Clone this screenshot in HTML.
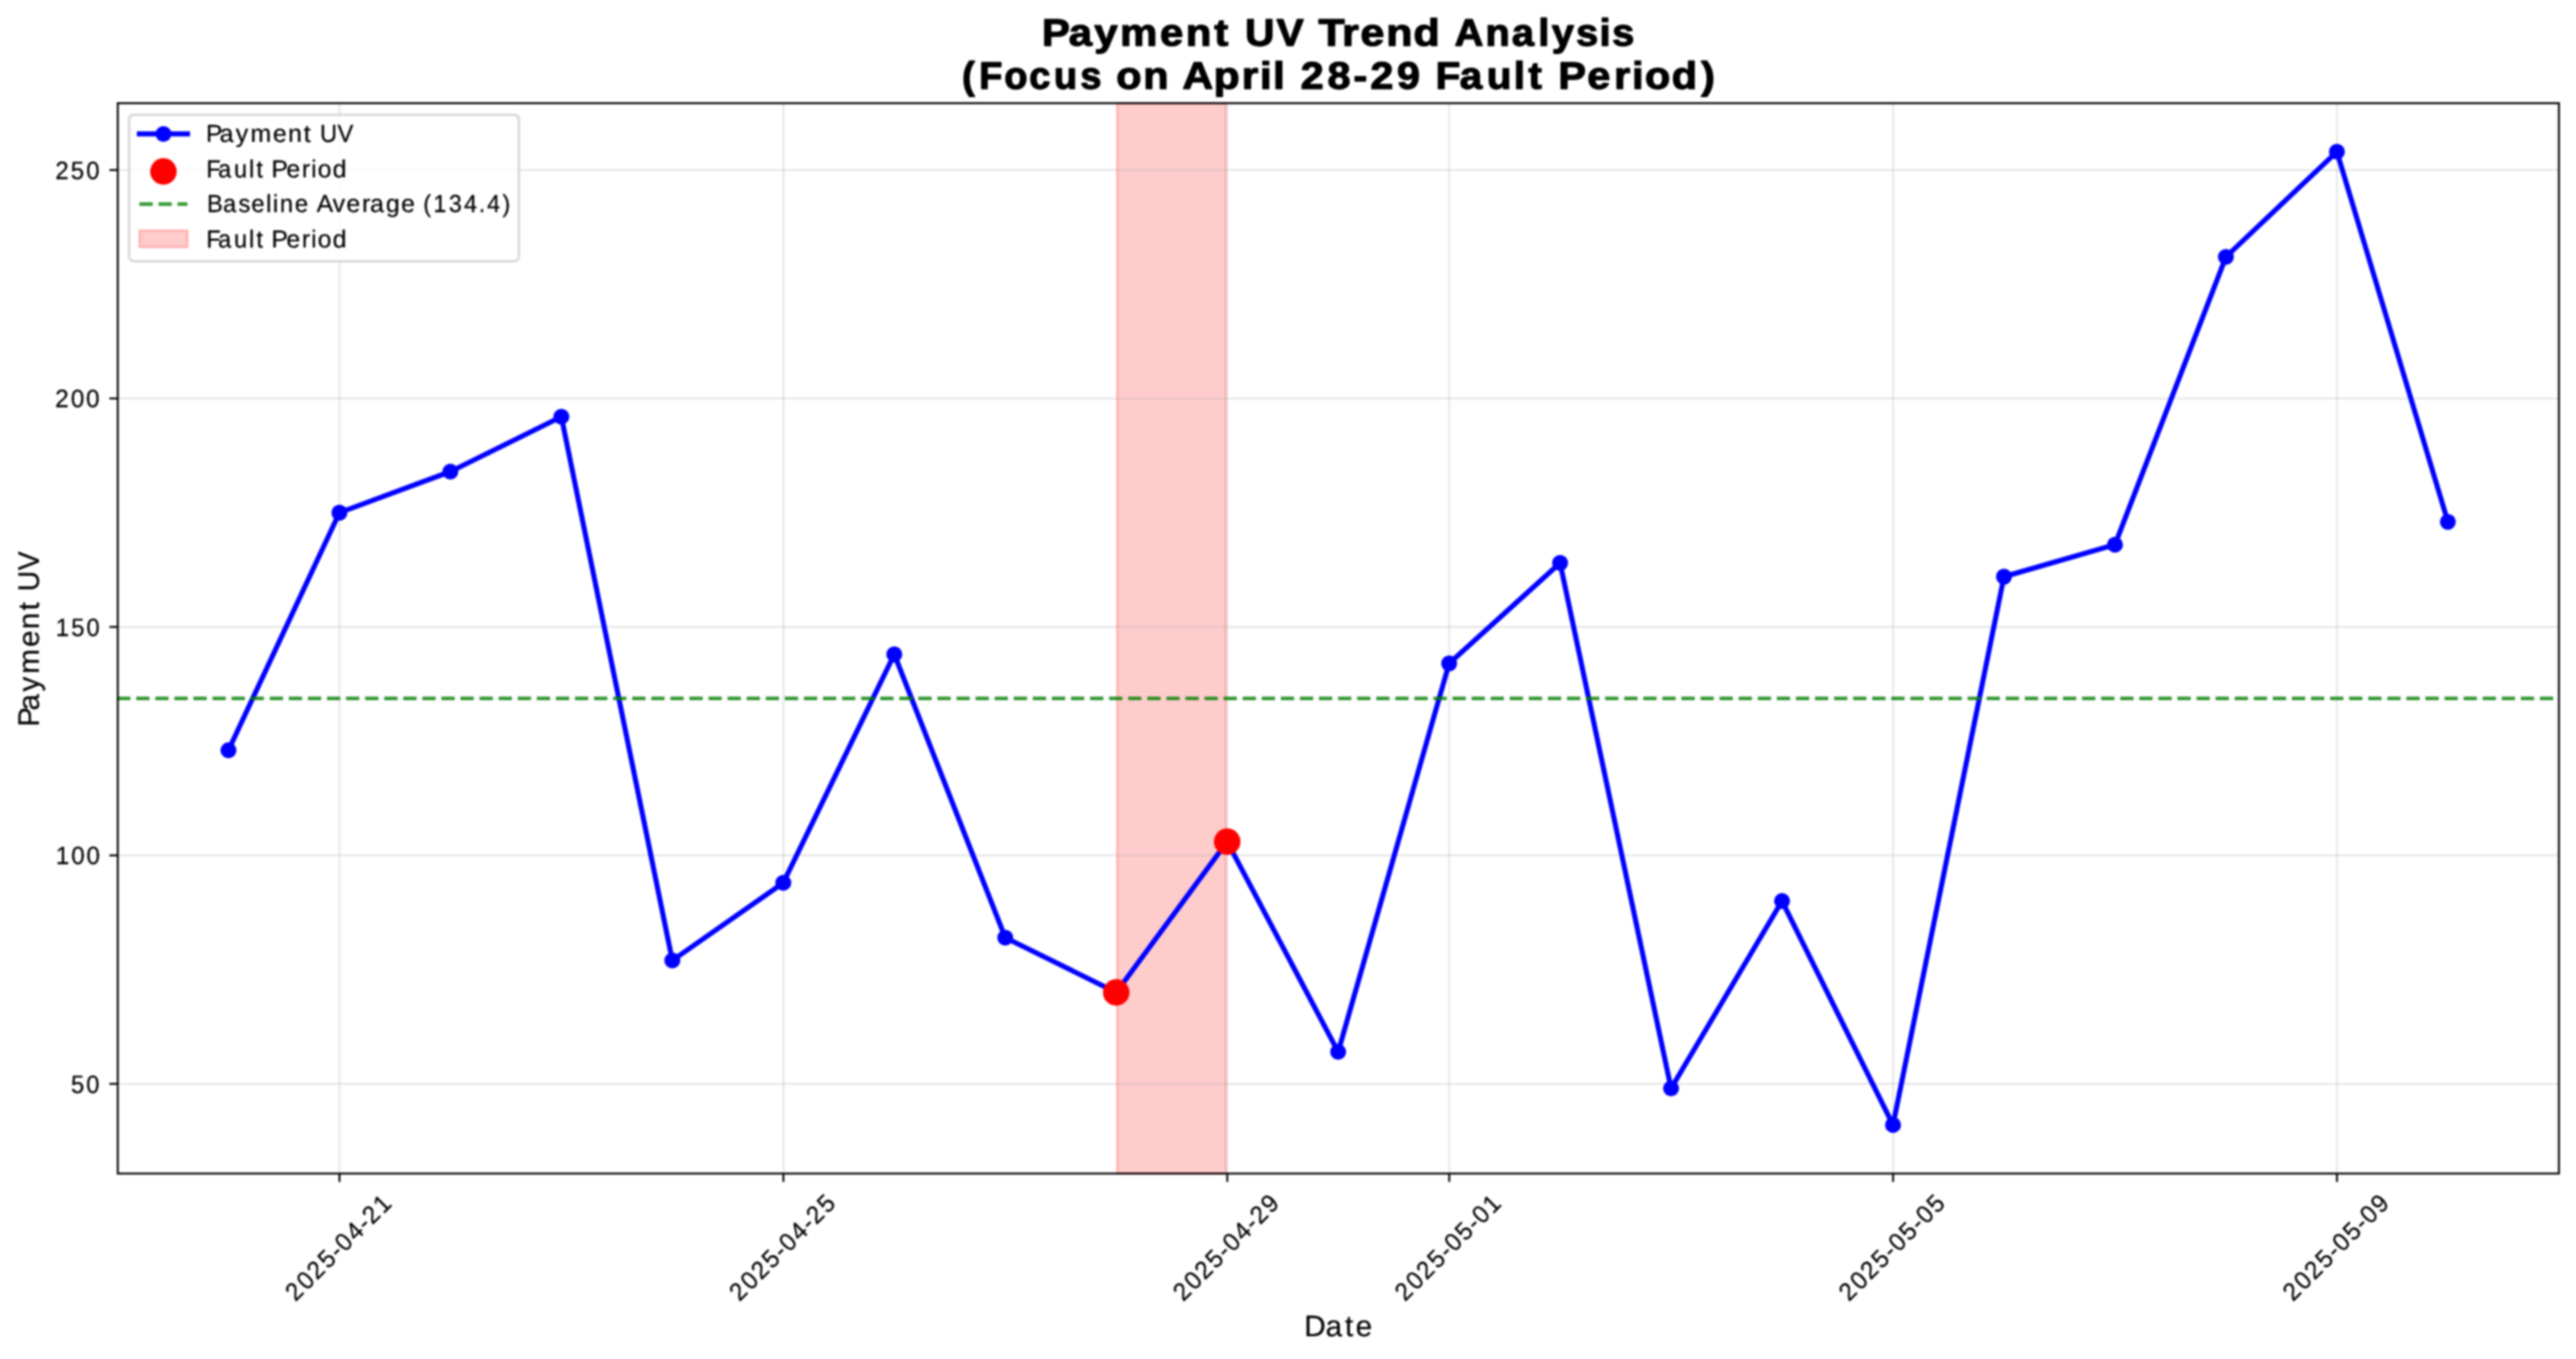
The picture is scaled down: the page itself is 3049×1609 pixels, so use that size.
<!DOCTYPE html>
<html><head><meta charset="utf-8"><title>Payment UV Trend Analysis</title><style>
html,body{margin:0;padding:0;background:#fff;width:3049px;height:1609px;overflow:hidden}
svg{display:block}
svg text{font-family:"Liberation Sans", sans-serif;font-kerning:none}
</style></head><body>
<svg width="3049" height="1609" viewBox="0 0 3049 1609">
<defs><filter id="bl" x="0" y="0" width="3049" height="1609" filterUnits="userSpaceOnUse" color-interpolation-filters="sRGB"><feGaussianBlur stdDeviation="1.0"/></filter></defs>
<g filter="url(#bl)">
<rect x="0" y="0" width="3049" height="1609" fill="#fff"/>
<rect x="1322.25" y="122.15" width="128.65" height="1267.27" fill="#ff0000" fill-opacity="0.2" stroke="#ff0000" stroke-opacity="0.2" stroke-width="2.84"/>
<line x1="401.85" y1="122.15" x2="401.85" y2="1389.42" stroke="#b0b0b0" stroke-opacity="0.3" stroke-width="2.27"/>
<line x1="927.24" y1="122.15" x2="927.24" y2="1389.42" stroke="#b0b0b0" stroke-opacity="0.3" stroke-width="2.27"/>
<line x1="1452.62" y1="122.15" x2="1452.62" y2="1389.42" stroke="#b0b0b0" stroke-opacity="0.3" stroke-width="2.27"/>
<line x1="1715.32" y1="122.15" x2="1715.32" y2="1389.42" stroke="#b0b0b0" stroke-opacity="0.3" stroke-width="2.27"/>
<line x1="2240.70" y1="122.15" x2="2240.70" y2="1389.42" stroke="#b0b0b0" stroke-opacity="0.3" stroke-width="2.27"/>
<line x1="2766.09" y1="122.15" x2="2766.09" y2="1389.42" stroke="#b0b0b0" stroke-opacity="0.3" stroke-width="2.27"/>
<line x1="139.42" y1="1283.20" x2="3028.80" y2="1283.20" stroke="#b0b0b0" stroke-opacity="0.3" stroke-width="2.27"/>
<line x1="139.42" y1="1012.73" x2="3028.80" y2="1012.73" stroke="#b0b0b0" stroke-opacity="0.3" stroke-width="2.27"/>
<line x1="139.42" y1="742.25" x2="3028.80" y2="742.25" stroke="#b0b0b0" stroke-opacity="0.3" stroke-width="2.27"/>
<line x1="139.42" y1="471.78" x2="3028.80" y2="471.78" stroke="#b0b0b0" stroke-opacity="0.3" stroke-width="2.27"/>
<line x1="139.42" y1="201.30" x2="3028.80" y2="201.30" stroke="#b0b0b0" stroke-opacity="0.3" stroke-width="2.27"/>
<polyline points="270.40,888.31 401.75,607.01 533.09,558.33 664.44,493.41 795.79,1137.14 927.13,1045.18 1058.48,774.71 1189.83,1110.10 1321.18,1175.01 1452.52,996.50 1583.87,1245.33 1715.22,785.53 1846.56,666.52 1977.91,1288.61 2109.26,1066.82 2240.61,1331.89 2371.95,682.75 2503.30,644.88 2634.65,304.08 2765.99,179.66 2897.34,617.83" fill="none" stroke="#0000ff" stroke-width="6.0" stroke-linejoin="round" stroke-linecap="square"/>
<circle cx="270.40" cy="888.31" r="9.45" fill="#0000ff"/>
<circle cx="401.75" cy="607.01" r="9.45" fill="#0000ff"/>
<circle cx="533.09" cy="558.33" r="9.45" fill="#0000ff"/>
<circle cx="664.44" cy="493.41" r="9.45" fill="#0000ff"/>
<circle cx="795.79" cy="1137.14" r="9.45" fill="#0000ff"/>
<circle cx="927.13" cy="1045.18" r="9.45" fill="#0000ff"/>
<circle cx="1058.48" cy="774.71" r="9.45" fill="#0000ff"/>
<circle cx="1189.83" cy="1110.10" r="9.45" fill="#0000ff"/>
<circle cx="1321.18" cy="1175.01" r="9.45" fill="#0000ff"/>
<circle cx="1452.52" cy="996.50" r="9.45" fill="#0000ff"/>
<circle cx="1583.87" cy="1245.33" r="9.45" fill="#0000ff"/>
<circle cx="1715.22" cy="785.53" r="9.45" fill="#0000ff"/>
<circle cx="1846.56" cy="666.52" r="9.45" fill="#0000ff"/>
<circle cx="1977.91" cy="1288.61" r="9.45" fill="#0000ff"/>
<circle cx="2109.26" cy="1066.82" r="9.45" fill="#0000ff"/>
<circle cx="2240.61" cy="1331.89" r="9.45" fill="#0000ff"/>
<circle cx="2371.95" cy="682.75" r="9.45" fill="#0000ff"/>
<circle cx="2503.30" cy="644.88" r="9.45" fill="#0000ff"/>
<circle cx="2634.65" cy="304.08" r="9.45" fill="#0000ff"/>
<circle cx="2765.99" cy="179.66" r="9.45" fill="#0000ff"/>
<circle cx="2897.34" cy="617.83" r="9.45" fill="#0000ff"/>
<line x1="138.6" y1="826.77" x2="3028.80" y2="826.77" stroke="#008000" stroke-opacity="0.8" stroke-width="4.25" stroke-dasharray="15.76 6.82"/>
<circle cx="1321.18" cy="1175.01" r="15.7" fill="#ff0000"/>
<circle cx="1452.52" cy="996.50" r="15.7" fill="#ff0000"/>
<rect x="139.42" y="122.15" width="2889.38" height="1267.27" fill="none" stroke="#000" stroke-width="2.27" stroke-linecap="square"/>
<line x1="401.85" y1="1389.42" x2="401.85" y2="1399.36" stroke="#000" stroke-width="2.27"/>
<line x1="927.24" y1="1389.42" x2="927.24" y2="1399.36" stroke="#000" stroke-width="2.27"/>
<line x1="1452.62" y1="1389.42" x2="1452.62" y2="1399.36" stroke="#000" stroke-width="2.27"/>
<line x1="1715.32" y1="1389.42" x2="1715.32" y2="1399.36" stroke="#000" stroke-width="2.27"/>
<line x1="2240.70" y1="1389.42" x2="2240.70" y2="1399.36" stroke="#000" stroke-width="2.27"/>
<line x1="2766.09" y1="1389.42" x2="2766.09" y2="1399.36" stroke="#000" stroke-width="2.27"/>
<line x1="129.48" y1="1283.20" x2="139.42" y2="1283.20" stroke="#000" stroke-width="2.27"/>
<line x1="129.48" y1="1012.73" x2="139.42" y2="1012.73" stroke="#000" stroke-width="2.27"/>
<line x1="129.48" y1="742.25" x2="139.42" y2="742.25" stroke="#000" stroke-width="2.27"/>
<line x1="129.48" y1="471.78" x2="139.42" y2="471.78" stroke="#000" stroke-width="2.27"/>
<line x1="129.48" y1="201.30" x2="139.42" y2="201.30" stroke="#000" stroke-width="2.27"/>
<rect x="152.8" y="135.86" width="461.30" height="173.54" rx="5.7" ry="5.7" fill="#fff" fill-opacity="0.8" stroke="#cccccc" stroke-opacity="0.8" stroke-width="2.84"/>
<line x1="165.0" y1="158.6" x2="221.9" y2="158.6" stroke="#0000ff" stroke-width="6.0" stroke-linecap="square"/>
<circle cx="193.45" cy="158.6" r="9.45" fill="#0000ff"/>
<circle cx="193.45" cy="203.0" r="15.7" fill="#ff0000"/>
<line x1="165.0" y1="241.7" x2="221.9" y2="241.7" stroke="#008000" stroke-opacity="0.8" stroke-width="4.25" stroke-dasharray="15.76 6.82"/>
<rect x="165.0" y="272.85" width="56.90" height="19.75" fill="#ff0000" fill-opacity="0.2" stroke="#ff0000" stroke-opacity="0.2" stroke-width="2.84"/>
<g fill="#000" font-family="'Liberation Sans', sans-serif" style="font-kerning:none" text-rendering="geometricPrecision">
<text transform="scale(1.09912,1)" x="1122.12 1150.82 1178.41 1206.17 1249.11 1276.94 1307.62" y="53.87" font-size="45.11" font-weight="bold" stroke="#000" stroke-width="1.365" stroke-linejoin="round">Payment</text>
<text transform="scale(1.06428,1)" x="1384.67 1419.72" y="53.86" font-size="45.11" font-weight="bold" stroke="#000" stroke-width="1.409" stroke-linejoin="round">UV</text>
<text transform="scale(1.12747,1)" x="1384.08 1408.94 1428.16 1455.32 1483.95" y="53.87" font-size="45.11" font-weight="bold" stroke="#000" stroke-width="1.330" stroke-linejoin="round">Trend</text>
<text transform="scale(1.04069,1)" x="1654.40 1689.46 1719.44 1749.61 1764.91 1792.64 1819.26 1833.73" y="53.89" font-size="45.11" font-weight="bold" stroke="#000" stroke-width="1.441" stroke-linejoin="round">Analysis</text>
<text transform="scale(0.99214,1)" x="1147.82 1168.13 1198.17 1227.95 1257.32 1288.78" y="104.94" font-size="45.11" font-weight="bold" stroke="#000" stroke-width="1.512" stroke-linejoin="round">(Focus</text>
<text transform="scale(1.08241,1)" x="1220.62 1250.18" y="105.14" font-size="45.11" font-weight="bold" stroke="#000" stroke-width="1.386" stroke-linejoin="round">on</text>
<text transform="scale(1.11565,1)" x="1254.43 1287.54 1317.49 1336.57 1350.56" y="105.10" font-size="45.11" font-weight="bold" stroke="#000" stroke-width="1.345" stroke-linejoin="round">April</text>
<text transform="scale(1.08442,1)" x="1419.68 1448.94 1477.39 1495.64 1524.74" y="105.18" font-size="45.11" font-weight="bold" stroke="#000" stroke-width="1.383" stroke-linejoin="round">28-29</text>
<text transform="scale(1.05920,1)" x="1604.39 1631.29 1661.45 1691.73 1707.93" y="105.08" font-size="45.11" font-weight="bold" stroke="#000" stroke-width="1.416" stroke-linejoin="round">Fault</text>
<text transform="scale(1.08472,1)" x="1700.41 1732.03 1761.21 1780.77 1794.89 1824.13 1856.30" y="104.96" font-size="45.11" font-weight="bold" stroke="#000" stroke-width="1.383" stroke-linejoin="round">Period)</text>
<text transform="scale(1.00968,1)" x="241.46 257.43 276.29 293.60 320.03 337.65 356.05" y="167.99" font-size="29.17" stroke="#000" stroke-width="0.248" stroke-linejoin="round">Payment</text>
<text transform="scale(0.96074,1)" x="394.15 415.90" y="167.85" font-size="29.17" stroke="#000" stroke-width="0.260" stroke-linejoin="round">UV</text>
<text transform="scale(0.95167,1)" x="256.66 271.42 291.08 309.66 318.80" y="209.66" font-size="29.17" stroke="#000" stroke-width="0.263" stroke-linejoin="round">Fault</text>
<text transform="scale(1.00694,1)" x="319.14 336.60 354.91 365.76 373.49 390.99" y="209.66" font-size="29.17" stroke="#000" stroke-width="0.248" stroke-linejoin="round">Period</text>
<text transform="scale(0.96522,1)" x="253.76 273.54 292.41 308.26 326.29 334.52 343.19 361.67" y="251.37" font-size="29.17" stroke="#000" stroke-width="0.259" stroke-linejoin="round">Baseline</text>
<text transform="scale(1.00893,1)" x="371.42 390.19 406.45 424.67 434.24 452.70 470.55" y="251.24" font-size="29.17" stroke="#000" stroke-width="0.248" stroke-linejoin="round">Average</text>
<text transform="scale(0.94665,1)" x="529.14 541.89 561.16 580.22 598.61 608.87 628.29" y="251.39" font-size="29.17" stroke="#000" stroke-width="0.264" stroke-linejoin="round">(134.4)</text>
<text transform="scale(0.95167,1)" x="256.66 271.42 291.08 309.66 318.80" y="293.08" font-size="29.17" stroke="#000" stroke-width="0.263" stroke-linejoin="round">Fault</text>
<text transform="scale(1.00694,1)" x="319.14 336.60 354.91 365.76 373.49 390.99" y="293.08" font-size="29.17" stroke="#000" stroke-width="0.248" stroke-linejoin="round">Period</text>
<text transform="scale(0.96147,1)" x="68.14 87.19 106.08" y="211.80" font-size="29.60" stroke="#000" stroke-width="0.260" stroke-linejoin="round">250</text>
<text transform="scale(0.98069,1)" x="66.64 85.43 103.83" y="482.42" font-size="29.60" stroke="#000" stroke-width="0.255" stroke-linejoin="round">200</text>
<text transform="scale(0.95885,1)" x="68.95 87.80 106.75" y="752.69" font-size="29.60" stroke="#000" stroke-width="0.261" stroke-linejoin="round">150</text>
<text transform="scale(0.97843,1)" x="67.39 85.99 104.45" y="1022.96" font-size="29.60" stroke="#000" stroke-width="0.256" stroke-linejoin="round">100</text>
<text transform="scale(0.95584,1)" x="87.98 106.81" y="1293.58" font-size="29.60" stroke="#000" stroke-width="0.262" stroke-linejoin="round">50</text>
<text transform="scale(1.00289,1)" x="1539.39 1564.42 1587.53 1599.88" y="1581.96" font-size="35.08" stroke="#000" stroke-width="0.249" stroke-linejoin="round">Date</text>
<text transform="translate(45.99,859.59) rotate(-90) scale(1.00263,1)" x="-0.93 18.22 40.83 61.57 93.29 114.41 136.49" y="-0.12" font-size="35.08" stroke="#000" stroke-width="0.249" stroke-linejoin="round">Payment</text>
<text transform="translate(45.86,700.42) rotate(-90) scale(0.95506,1)" x="0.33 26.43" y="-0.12" font-size="35.08" stroke="#000" stroke-width="0.262" stroke-linejoin="round">UV</text>
<text transform="translate(349.47,1542.37) rotate(-45) scale(0.96639,1)" x="0.68 19.74 38.02 56.96 75.02 86.32 104.99 122.94 133.86 152.77" y="-0.12" font-size="29.70" stroke="#000" stroke-width="0.259" stroke-linejoin="round">2025-04-21</text>
<text transform="translate(874.97,1542.30) rotate(-45) scale(0.96507,1)" x="0.69 19.77 38.08 57.04 75.13 86.45 105.14 123.11 134.05 153.02" y="-0.12" font-size="29.70" stroke="#000" stroke-width="0.259" stroke-linejoin="round">2025-04-25</text>
<text transform="translate(1400.05,1542.24) rotate(-45) scale(0.97486,1)" x="0.60 19.49 37.61 56.39 74.32 85.50 104.00 121.83 132.62 151.42" y="-0.12" font-size="29.70" stroke="#000" stroke-width="0.256" stroke-linejoin="round">2025-04-29</text>
<text transform="translate(1662.70,1542.37) rotate(-45) scale(0.96386,1)" x="0.70 19.81 38.14 57.13 75.23 86.57 105.17 123.27 134.62 153.20" y="-0.12" font-size="29.70" stroke="#000" stroke-width="0.259" stroke-linejoin="round">2025-05-01</text>
<text transform="translate(2188.20,1542.30) rotate(-45) scale(0.96257,1)" x="0.72 19.85 38.20 57.21 75.34 86.70 105.33 123.45 134.81 153.44" y="-0.12" font-size="29.70" stroke="#000" stroke-width="0.260" stroke-linejoin="round">2025-05-05</text>
<text transform="translate(2713.62,1542.24) rotate(-45) scale(0.97236,1)" x="0.63 19.56 37.73 56.55 74.53 85.74 104.18 122.15 133.37 151.83" y="-0.12" font-size="29.70" stroke="#000" stroke-width="0.257" stroke-linejoin="round">2025-05-09</text>
</g>
</g>
</svg>
</body></html>
